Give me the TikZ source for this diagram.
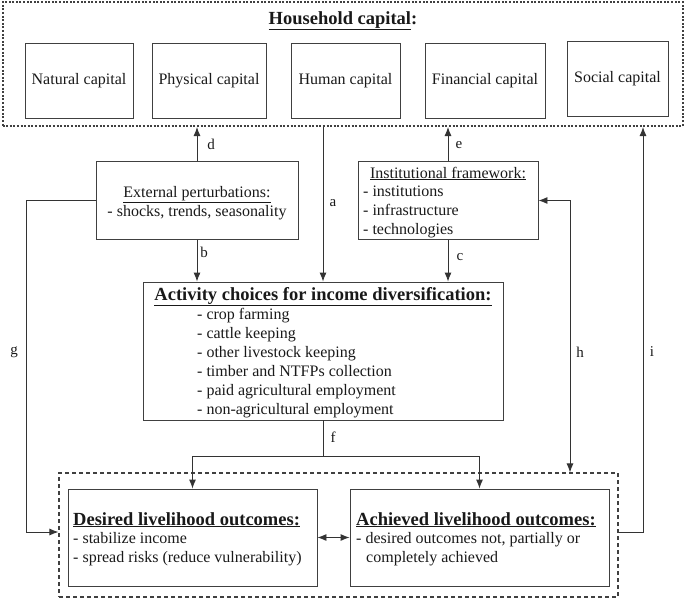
\documentclass[tikz,border=0pt]{standalone}
\usepackage{fontspec}
\setmainfont{Liberation Serif}
\usetikzlibrary{arrows.meta}
\begin{document}
\begin{tikzpicture}[x=1pt,y=-1pt,
  line/.style={draw=black!80, line width=0.9pt},
  arr/.style={line, -{Latex[length=9pt,width=7pt]}},
  darr/.style={line, {Latex[length=9pt,width=7pt]}-{Latex[length=9pt,width=7pt]}},
  box/.style={draw=black!75, line width=0.9pt, inner sep=0pt, rectangle},
  body/.style={font=\fontsize{16}{19}\selectfont, inner sep=0pt, text=black!90},
  ttl/.style={font=\bfseries\fontsize{18.5}{22}\selectfont, inner sep=0pt, text=black!90},
  lbl/.style={font=\fontsize{15}{18}\selectfont, inner sep=0pt, text=black!90}]
\useasboundingbox (0,0) rectangle (685,600);

% top dotted frame
\node[box, line width=2pt, dash pattern=on 2pt off 1.6pt, minimum width=680pt, minimum height=124pt] (outer) at (342.5,64) {};
\node[ttl, anchor=base] (htitle) at (343,24) {\underline{Household capital}:};

\node[box, body, minimum width=108pt, minimum height=75pt] (nat) at (79,80.5) {Natural capital};
\node[box, body, minimum width=114pt, minimum height=75pt] (phy) at (209,80.5) {Physical capital};
\node[box, body, minimum width=109pt, minimum height=75pt] (hum) at (345.5,80.5) {Human capital};
\node[box, body, minimum width=120pt, minimum height=75pt] (fin) at (485,80.5) {Financial capital};
\node[box, body, minimum width=101pt, minimum height=75pt] (soc) at (617.5,78.5) {Social capital};

% external perturbations
\node[box, minimum width=202pt, minimum height=78pt] (ext) at (197,200.5) {};
\node[body, anchor=base] (extt) at (197,197) {\underline{External perturbations:}};
\node[body, anchor=base] (exti) at (197,216) {- shocks, trends, seasonality};

% institutional framework
\node[box, minimum width=180pt, minimum height=78pt] (inst) at (448,200.5) {};
\node[body, anchor=base] (instt) at (448,178) {\underline{Institutional framework:}};
\node[body, anchor=base west] (inst1) at (363,196.5) {- institutions};
\node[body, anchor=base west] (inst2) at (363,215.5) {- infrastructure};
\node[body, anchor=base west] (inst3) at (363,234.5) {- technologies};

% activity choices
\node[box, minimum width=360pt, minimum height=138pt] (act) at (323,351) {};
\node[ttl, anchor=base] (actt) at (323,300) {\underline{Activity choices for income diversification:}};
\node[body, anchor=base west] (act1) at (197,319.5) {- crop farming};
\node[body, anchor=base west] (act2) at (197,338.4) {- cattle keeping};
\node[body, anchor=base west] (act3) at (197,357.3) {- other livestock keeping};
\node[body, anchor=base west] (act4) at (197,376.2) {- timber and NTFPs collection};
\node[body, anchor=base west] (act5) at (197,395.1) {- paid agricultural employment};
\node[body, anchor=base west] (act6) at (197,414) {- non-agricultural employment};

% bottom dashed frame
\node[box, line width=1.1pt, dash pattern=on 4pt off 3pt, minimum width=559pt, minimum height=124pt] (bot) at (338.5,535) {};
\node[box, minimum width=249pt, minimum height=97pt] (des) at (192.5,537.5) {};
\node[ttl, anchor=base west] (dest) at (73,525) {\underline{Desired livelihood outcomes:}};
\node[body, anchor=base west] (des1) at (73,543.5) {- stabilize income};
\node[body, anchor=base west] (des2) at (73,562.5) {- spread risks (reduce vulnerability)};
\node[box, minimum width=259pt, minimum height=97pt] (ach) at (479.5,537.5) {};
\node[ttl, anchor=base west] (acht) at (356,525) {\underline{Achieved livelihood outcomes:}};
\node[body, anchor=base west] (ach1) at (356,543.5) {- desired outcomes not, partially or};
\node[body, anchor=base west] (ach2) at (366,562.5) {completely achieved};

% helper coordinates
\coordinate (gy) at (0,532);
\coordinate (gx) at (26,0);
\coordinate (hx) at (570,0);
\coordinate (ix) at (643,0);
\coordinate (fs) at (323,456);

% connectors
\draw[arr] (ext.north) -- (ext.north |- outer.south);
\draw[arr] (ext.south) -- (ext.south |- act.north);
\draw[arr] (act.north |- outer.south) -- (act.north);
\draw[arr] (inst.north) -- (inst.north |- outer.south);
\draw[arr] (inst.south) -- (inst.south |- act.north);
\draw[darr] (inst.east) -| (hx |- bot.north);
\draw[arr] (bot.east |- gy) -| (ix |- outer.south);
\draw[arr] (ext.west) -| (gx |- gy) -- (bot.west |- gy);
\draw[line] (act.south) -- (fs);
\draw[arr] (fs) -| (des.north);
\draw[arr] (fs) -| (ach.north);
\draw[darr] (des.east) -- (ach.west);

% labels
\node[lbl] (la) at (333,203) {a};
\node[lbl] (lb) at (204,252) {b};
\node[lbl] (lc) at (460,257) {c};
\node[lbl] (ld) at (211,144) {d};
\node[lbl] (le) at (459,145) {e};
\node[lbl] (lf) at (333,437) {f};
\node[lbl] (lg) at (14,352) {g};
\node[lbl] (lh) at (580,352) {h};
\node[lbl] (li) at (652,352) {i};
\end{tikzpicture}
\end{document}
